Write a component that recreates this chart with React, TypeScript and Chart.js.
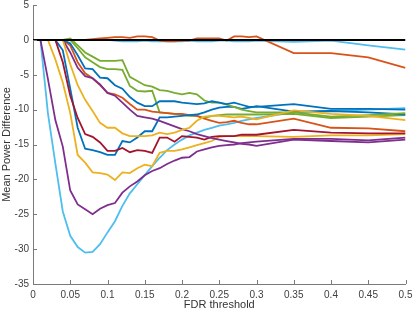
import React, { useEffect, useRef } from "react";
import { Chart, registerables } from "chart.js";

Chart.register(...registerables);

const xs = [0, 0.01, 0.02, 0.03, 0.04, 0.05, 0.06, 0.07, 0.08, 0.09, 0.1, 0.11, 0.12, 0.13, 0.14, 0.15, 0.16, 0.17, 0.18, 0.19, 0.2, 0.21, 0.22, 0.23, 0.24, 0.25, 0.26, 0.27, 0.28, 0.29, 0.3, 0.35, 0.4, 0.45, 0.5];

const zeroLine = [0, 0];
const zeroX = [0, 0.5];

const blueA = [0, 0, 0, 0, 0, -0.5, -2.2, -4.1, -4.2, -5.4, -5.5, -6.5, -7.0, -8.2, -9.0, -9.5, -9.5, -8.8, -8.8, -8.8, -9.0, -9.1, -9.2, -9.1, -8.8, -9.0, -9.2, -9.0, -9.3, -9.6, -9.6, -9.2, -9.9, -9.9, -10.0];
const orangeA = [0, 0, 0, 0, 0, 0, 0, 0, 0.1, 0.2, 0.3, 0.4, 0.4, 0.3, 0.5, 0.5, 0.4, -0.1, -0.2, -0.2, -0.1, -0.1, 0.2, 0.2, 0.2, 0.2, -0.1, 0.5, 0.5, 0.4, 0.5, -1.9, -1.9, -2.5, -4.0];
const yellowA = [0, 0, 0, 0, 0, -3.5, -6.5, -8.6, -10.2, -11.9, -12.6, -12.6, -13.4, -13.8, -13.8, -13.8, -13.7, -13.3, -13.5, -13.3, -12.9, -12.6, -11.6, -11.0, -10.9, -10.9, -11.0, -11.1, -11.0, -11.2, -11.4, -10.1, -10.6, -10.9, -11.5];
const purpleA = [0, 0, 0, 0, 0, -1.8, -4.0, -5.2, -5.5, -6.4, -7.6, -8.0, -9.0, -10.0, -10.9, -11.1, -11.3, -11.6, -12.0, -12.4, -12.8, -13.1, -13.5, -13.8, -14.1, -14.3, -14.5, -14.7, -14.9, -15.0, -15.2, -14.3, -14.5, -14.7, -14.3];
const greenA = [0, 0, 0, 0, 0, 0.2, -0.8, -1.8, -2.4, -3.0, -3.0, -3.0, -2.9, -5.3, -5.9, -6.5, -6.7, -7.2, -7.3, -7.6, -7.8, -7.6, -7.8, -8.7, -9.0, -9.0, -9.3, -9.6, -10.0, -10.2, -10.4, -10.4, -11.0, -10.8, -10.5];
const lightBlueA = [0, 0, 0, 0, 0, 0, 0, 0, 0, 0, 0, -0.1, -0.2, -0.2, -0.2, -0.1, -0.2, -0.2, -0.2, -0.2, -0.2, -0.1, -0.2, -0.2, -0.2, -0.1, -0.1, -0.2, -0.2, -0.2, -0.1, -0.3, -0.1, -0.8, -1.4];
const darkRedA = [0, 0, 0, 0, -3.2, -8.0, -11.2, -13.5, -13.9, -14.7, -15.9, -15.9, -15.5, -16.1, -15.8, -15.9, -16.2, -14.0, -14.0, -14.6, -13.8, -13.9, -14.0, -14.3, -13.9, -13.8, -13.8, -13.8, -13.6, -13.6, -13.6, -12.9, -13.3, -13.4, -13.4];
const blueB = [0, 0, 0, 0, -1.5, -7.0, -12.6, -15.6, -15.8, -16.1, -16.5, -16.5, -14.5, -14.7, -14.0, -13.1, -13.1, -11.1, -11.1, -11.0, -10.9, -10.8, -10.7, -10.4, -10.0, -9.7, -9.6, -9.6, -9.9, -9.7, -9.5, -10.3, -10.2, -10.4, -10.7];
const orangeB = [0, 0, 0, 0, 0, -0.8, -3.2, -4.8, -5.5, -6.5, -7.6, -7.8, -8.3, -9.2, -10.0, -10.0, -10.3, -10.4, -10.5, -10.6, -10.6, -10.8, -10.9, -11.3, -11.6, -11.9, -11.8, -11.6, -11.9, -12.1, -12.1, -11.3, -12.6, -12.7, -13.1];
const yellowB = [0, 0, 0, -2.8, -6.1, -10.5, -16.5, -17.6, -19.0, -19.1, -19.3, -20.1, -19.0, -19.1, -18.4, -17.9, -18.1, -16.2, -15.9, -15.9, -15.7, -15.4, -15.1, -14.8, -14.5, -13.9, -13.8, -13.8, -13.8, -13.8, -13.8, -13.9, -13.7, -13.7, -13.5];
const purpleB = [0, 0, -5.6, -11.5, -15.3, -21.6, -23.6, -24.3, -25.0, -24.2, -23.7, -23.4, -21.9, -21.0, -20.3, -19.4, -18.8, -18.4, -17.8, -17.3, -16.9, -16.8, -16.0, -15.7, -15.4, -15.2, -15.1, -15.0, -14.8, -14.7, -14.6, -14.2, -14.2, -14.4, -14.0];
const greenB = [0, 0, 0, 0, 0, 0, -1.2, -2.5, -3.2, -3.9, -4.2, -4.2, -4.3, -6.6, -7.3, -7.4, -7.3, -10.4, -10.5, -10.6, -10.7, -10.9, -10.9, -11.2, -10.9, -10.8, -10.7, -10.7, -10.7, -10.7, -10.7, -10.6, -11.2, -11.0, -10.8];
const lightBlueB = [0, 0, -10.5, -17.7, -24.6, -28.1, -29.7, -30.5, -30.4, -29.3, -27.6, -26.0, -23.8, -22.0, -20.7, -19.4, -18.1, -16.9, -15.8, -15.0, -14.3, -13.7, -13.3, -12.9, -12.6, -12.3, -12.1, -11.9, -11.6, -11.4, -11.2, -10.4, -10.2, -10.0, -9.8];

const xTicks = [0, 0.05, 0.1, 0.15, 0.2, 0.25, 0.3, 0.35, 0.4, 0.45, 0.5];
const yTicks = [-35, -30, -25, -20, -15, -10, -5, 0, 5];

const seriesList = [
  { data: blueA, color: "#0072BD" },
  { data: orangeA, color: "#D95319" },
  { data: yellowA, color: "#EDB120" },
  { data: purpleA, color: "#7E2F8E" },
  { data: greenA, color: "#77AC30" },
  { data: lightBlueA, color: "#4DBEEE" },
  { data: darkRedA, color: "#A2142F" },
  { data: blueB, color: "#0072BD" },
  { data: orangeB, color: "#D95319" },
  { data: yellowB, color: "#EDB120" },
  { data: purpleB, color: "#7E2F8E" },
  { data: greenB, color: "#77AC30" },
  { data: lightBlueB, color: "#4DBEEE" },
];

const FONT = "'Liberation Sans', Arial, Helvetica, sans-serif";

const inwardTicks = {
  id: "inwardTicks",
  afterDraw(chart: any) {
    const { ctx, chartArea, scales } = chart;
    ctx.save();
    ctx.strokeStyle = "#7a7a7a";
    ctx.lineWidth = 1;
    ctx.beginPath();
    xTicks.forEach((v) => {
      const px = Math.round(scales.x.getPixelForValue(v)) + 0.5;
      ctx.moveTo(px, chartArea.bottom);
      ctx.lineTo(px, chartArea.bottom - 4);
    });
    yTicks.forEach((v) => {
      const py = Math.round(scales.y.getPixelForValue(v)) + 0.5;
      ctx.moveTo(chartArea.left, py);
      ctx.lineTo(chartArea.left + 4, py);
    });
    ctx.stroke();
    ctx.restore();
  },
};

export default function App() {
  const ref = useRef<HTMLCanvasElement>(null);
  useEffect(() => {
    document.body.style.margin = "0";
    const datasets: any[] = [
      {
        data: zeroX.map((x, i) => ({ x, y: zeroLine[i] })),
        borderColor: "#000000",
        borderWidth: 2,
        pointRadius: 0,
        fill: false,
      },
    ];
    seriesList.forEach((s) => {
      datasets.push({
        data: xs.map((x, i) => ({ x, y: s.data[i] })),
        borderColor: s.color,
        borderWidth: 1.8,
        pointRadius: 0,
        fill: false,
        tension: 0,
      });
    });
    const chart = new Chart(ref.current!, {
      type: "line",
      data: { datasets },
      options: {
        animation: false,
        responsive: false,
        devicePixelRatio: 1,
        layout: { padding: { top: 0, right: 9.5, left: 0, bottom: 0 } },
        plugins: { legend: { display: false }, tooltip: { enabled: false } },
        scales: {
          x: {
            type: "linear",
            min: 0,
            max: 0.5,
            afterFit: (scale: any) => {
              scale.height = 28;
              scale.paddingRight = 0;
              scale.paddingLeft = 0;
            },
            afterBuildTicks: (scale: any) => {
              scale.ticks = xTicks.map((v) => ({ value: v }));
            },
            ticks: {
              autoSkip: false,
              maxRotation: 0,
              padding: 5,
              color: "#404040",
              font: { family: FONT, size: 10 },
              callback: (v: any) => String(Number(Number(v).toFixed(2))),
            },
            grid: { drawOnChartArea: false, drawTicks: false },
            border: { display: true, color: "#7a7a7a", width: 1 },
            title: {
              display: true,
              text: "FDR threshold",
              color: "#333333",
              padding: 0,
              font: { family: FONT, size: 11 },
            },
          },
          y: {
            type: "linear",
            min: -35,
            max: 5,
            afterFit: (scale: any) => {
              scale.width = 33;
              scale.paddingTop = 5;
              scale.paddingBottom = 0;
            },
            afterBuildTicks: (scale: any) => {
              scale.ticks = yTicks.map((v) => ({ value: v }));
            },
            ticks: {
              autoSkip: false,
              padding: 4,
              color: "#404040",
              font: { family: FONT, size: 10 },
            },
            grid: { drawOnChartArea: false, drawTicks: false },
            border: { display: true, color: "#7a7a7a", width: 1 },
            title: {
              display: true,
              text: "Mean Power Difference",
              color: "#333333",
              padding: 0,
              font: { family: FONT, size: 11 },
            },
          },
        },
      },
      plugins: [inwardTicks],
    });
    return () => chart.destroy();
  }, []);
  return (
    <div style={{ width: 415, height: 312, background: "#ffffff" }}>
      <canvas ref={ref} width={415} height={312} style={{ display: "block" }} />
    </div>
  );
}
